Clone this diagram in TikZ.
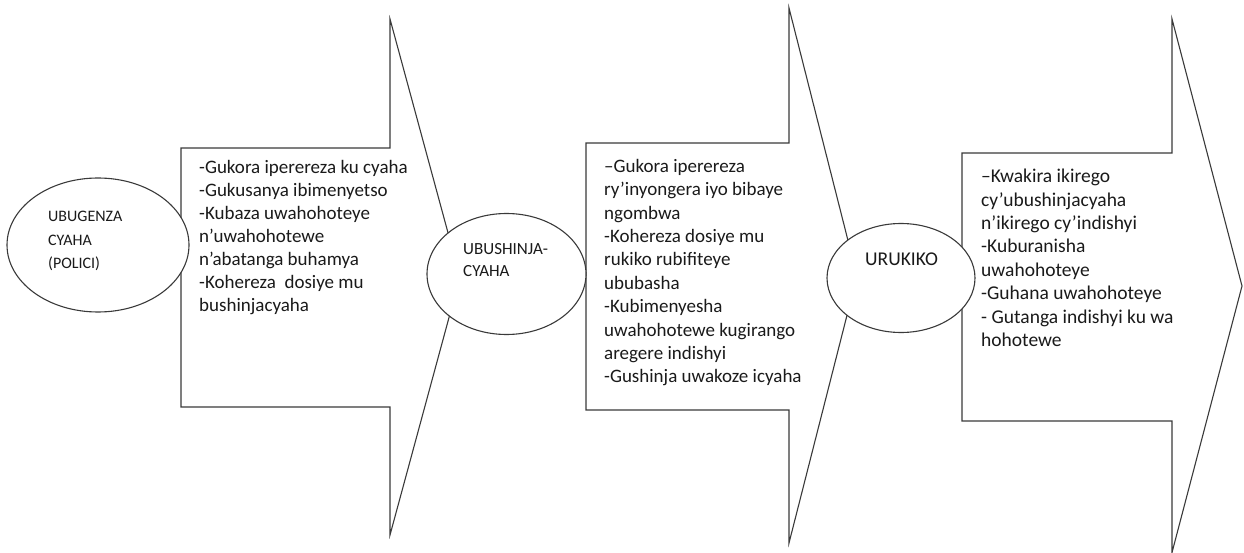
\documentclass[tikz,border=0pt]{standalone}
\usepackage{fontspec}
\setmainfont{Carlito}
\usetikzlibrary{shapes.geometric}
\definecolor{edge}{HTML}{3A3A3A}
\definecolor{ink}{HTML}{1A1A1A}
\begin{document}
\begin{tikzpicture}[x=1pt,y=-1pt,
  arrowshape/.style={draw=edge,line width=1.1pt,fill=white,line join=miter},
  oval/.style={ellipse,draw=edge,line width=1.1pt,fill=white,inner sep=0pt},
  boxtxt/.style={anchor=north west,align=left,inner sep=0pt,text=ink,font=\fontsize{19}{23}\selectfont},
  ovaltxt/.style={anchor=north west,align=left,inner sep=0pt,text=ink,font=\fontsize{16}{23.5}\selectfont}]
\useasboundingbox (0,0) rectangle (1244,553);
% arrow 1
\draw[arrowshape] (181,148) -- (390,148) -- (390,19) -- (460,277) -- (390,535) -- (390,407) -- (181,407) -- cycle;
% arrow 2
\draw[arrowshape] (586,143) -- (789,143) -- (789,8) -- (857,276) -- (789,543) -- (789,410) -- (586,410) -- cycle;
% arrow 3
\draw[arrowshape] (962,153) -- (1172,153) -- (1172,19) -- (1242,286) -- (1172,552.5) -- (1172,421) -- (962,421) -- cycle;
% ovals
\node[oval,minimum width=182pt,minimum height=134pt] (o1) at (98,245) {};
\node[oval,minimum width=159pt,minimum height=121pt] (o2) at (506.5,274) {};
\node[oval,minimum width=148pt,minimum height=109pt] (o3) at (901,278) {};
% oval texts
\node[ovaltxt] (l1) at (48,211) {UBUGENZA\\CYAHA\\(POLICI)};
\node[ovaltxt,font=\fontsize{17}{22}\selectfont] (l2) at (463,243) {UBUSHINJA-\\CYAHA};
\node[ovaltxt,font=\fontsize{19.5}{21}\selectfont] (l3) at (865,253) {URUKIKO};
% box texts
\node[boxtxt] (b1) at (199,160) {-Gukora iperereza ku cyaha\\-Gukusanya ibimenyetso\\-Kubaza uwahohoteye\\n’uwahohotewe\\n’abatanga buhamya\\-Kohereza\ \ dosiye mu\\bushinjacyaha};
\node[boxtxt,font=\fontsize{19}{23.4}\selectfont] (b2) at (604,159) {–Gukora iperereza\\ry’inyongera iyo bibaye\\ngombwa\\-Kohereza dosiye mu\\rukiko rubifiteye\\ububasha\\-Kubimenyesha\\uwahohotewe kugirango\\aregere indishyi\\-Gushinja uwakoze icyaha};
\node[boxtxt,font=\fontsize{19.5}{23.4}\selectfont] (b3) at (981,169) {–Kwakira ikirego\\cy’ubushinjacyaha\\n’ikirego cy’indishyi\\-Kuburanisha\\uwahohoteye\\-Guhana uwahohoteye\\- Gutanga indishyi ku wa\\hohotewe};
\end{tikzpicture}
\end{document}
